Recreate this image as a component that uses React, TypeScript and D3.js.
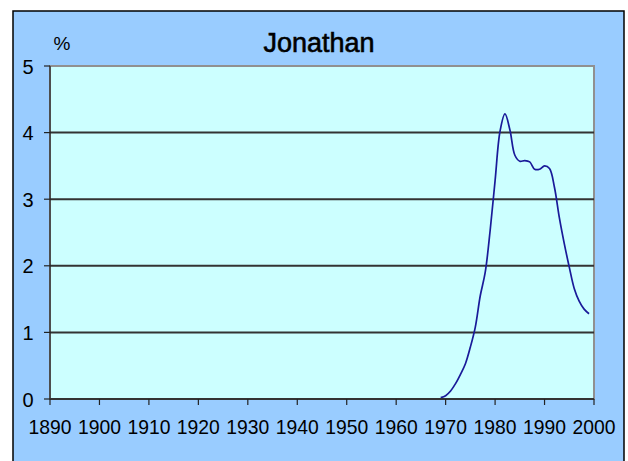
import React from 'react';
import * as d3 from 'd3';

// share of boys named Jonathan, percent, by birth year
const years = [1969, 1970, 1971, 1972, 1973, 1974, 1975, 1976, 1977, 1978, 1979, 1980,
  1981, 1982, 1983, 1984, 1985, 1986, 1987, 1988, 1989, 1990, 1991, 1992, 1993, 1994,
  1995, 1996, 1997, 1998, 1999];
const percents = [0.02, 0.05, 0.12, 0.23, 0.37, 0.53, 0.78, 1.08, 1.55, 1.9, 2.53, 3.28,
  4.02, 4.28, 4.04, 3.66, 3.57, 3.58, 3.56, 3.45, 3.45, 3.5, 3.46, 3.18, 2.72, 2.33,
  1.98, 1.66, 1.47, 1.35, 1.28];
const xTicks = [1890, 1900, 1910, 1920, 1930, 1940, 1950, 1960, 1970, 1980, 1990, 2000];
const yTicks = [0, 1, 2, 3, 4, 5];

const W = 628;
const H = 461;
const plot = { left: 50, right: 594, top: 66, bottom: 399 };
const font = '"Liberation Sans", Arial, sans-serif';

export default function App() {
  const x = d3.scaleLinear().domain([1890, 2000]).range([plot.left, plot.right]);
  const y = d3.scaleLinear().domain([0, 5]).range([plot.bottom, plot.top]);

  const line = d3.line<number>()
    .x((_, i) => x(years[i]))
    .y(d => y(d))
    .curve(d3.curveCatmullRom.alpha(0.5));

  return (
    <svg width={W} height={H} style={{ position: 'absolute', left: 0, top: 0, display: 'block' }}>
      <rect x={0} y={0} width={W} height={H} fill="#fff" />
      <rect x={13} y={11} width={611} height={470} fill="#99ccff" stroke="#000" strokeWidth={1.5} />

      <text x={319} y={52} textAnchor="middle" fontFamily={font} fontSize={27} fill="#000"
        stroke="#000" strokeWidth={0.6}>Jonathan</text>
      <text x={62} y={50} textAnchor="middle" fontFamily={font} fontSize={19} fill="#000">%</text>

      <rect x={plot.left} y={plot.top} width={plot.right - plot.left} height={plot.bottom - plot.top}
        fill="#ccffff" stroke="#909090" strokeWidth={2} />

      {yTicks.filter(t => t > 0 && t < 5).map(t => (
        <line key={'g' + t} x1={plot.left} x2={plot.right} y1={y(t)} y2={y(t)} stroke="#333" strokeWidth={2} />
      ))}

      <path d={line(percents) || ''} fill="none" stroke="#1a1a99" strokeWidth={1.7} />

      <line x1={plot.left} x2={plot.left} y1={plot.top} y2={plot.bottom} stroke="#222" strokeWidth={1.2} />
      <line x1={plot.left} x2={plot.right} y1={plot.bottom} y2={plot.bottom} stroke="#333" strokeWidth={2} />

      {yTicks.map(t => (
        <g key={'y' + t}>
          <line x1={plot.left - 6} x2={plot.left} y1={y(t)} y2={y(t)} stroke="#222" strokeWidth={1.2} />
          <text x={28} y={y(t) + 7.5} textAnchor="middle" fontFamily={font} fontSize={20} fill="#000">{t}</text>
        </g>
      ))}

      {xTicks.map(t => (
        <g key={'x' + t}>
          <line x1={x(t)} x2={x(t)} y1={plot.bottom} y2={plot.bottom + 6} stroke="#222" strokeWidth={1.2} />
          <text x={x(t)} y={434} textAnchor="middle" fontFamily={font} fontSize={21}
            textLength={43} lengthAdjust="spacingAndGlyphs" fill="#000">{t}</text>
        </g>
      ))}
    </svg>
  );
}
